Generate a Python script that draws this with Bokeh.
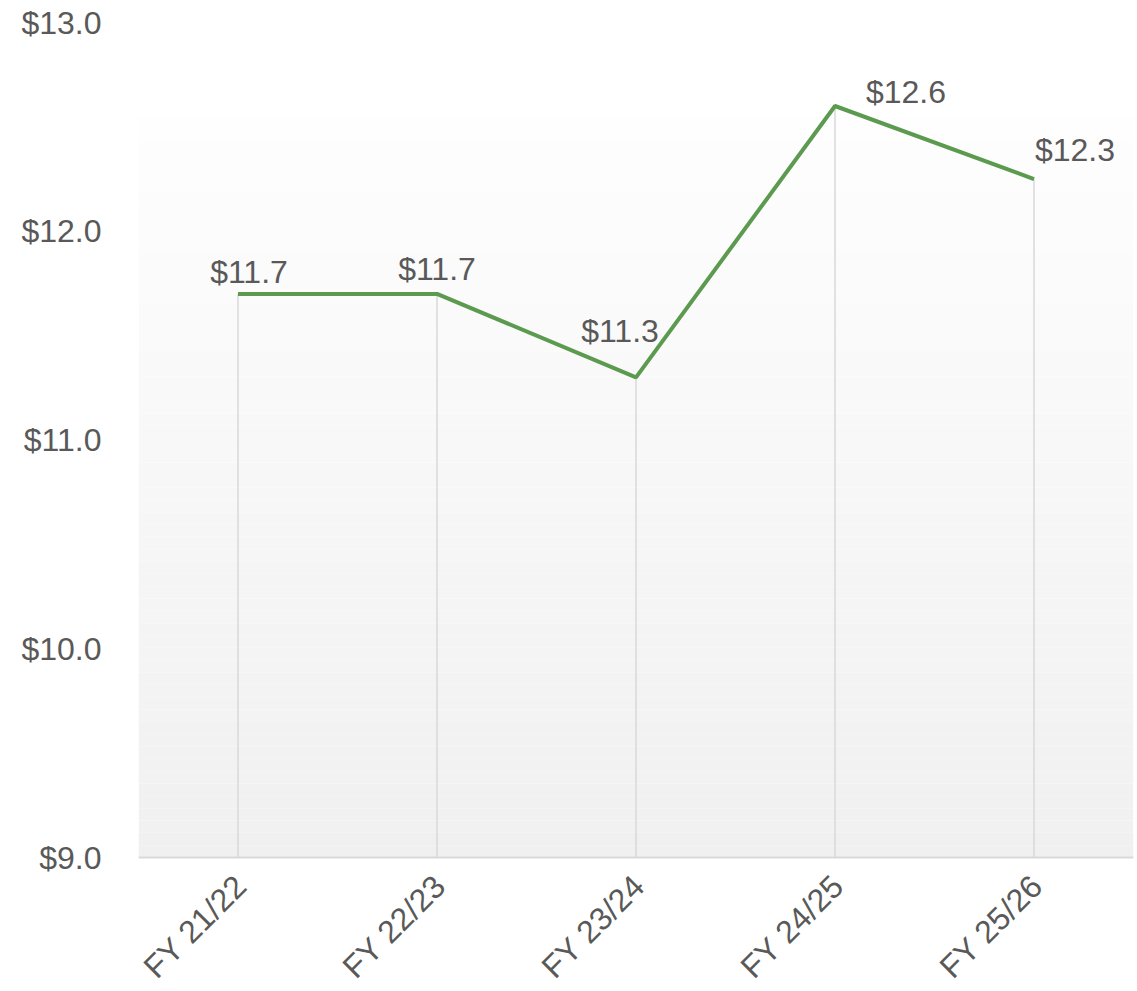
from bokeh.plotting import figure
from bokeh.models import ColumnDataSource, BoxAnnotation, NumeralTickFormatter, FactorRange, Range1d, Span
from bokeh.core.properties import value
from bokeh.embed import file_html
from bokeh.resources import INLINE
import math

# ---- data ----
categories = ["FY 21/22", "FY 22/23", "FY 23/24", "FY 24/25", "FY 25/26"]
values = [11.7, 11.7, 11.3, 12.6, 12.25]
value_labels = ["$11.7", "$11.7", "$11.3", "$12.6", "$12.3"]
y_start, y_end = 9.0, 13.0
y_ticks = [9, 10, 11, 12, 13]

# ---- style ----
FONT = "Liberation Sans"
TEXT_COLOR = "#595959"
LINE_COLOR = "#5B9A4F"
GRID_COLOR = "#D9D9D9"
label_dx = [11, 0, -16, 71, 41]
label_dy = [-22, -25, -46, -14, -29]

W, H = 1137, 991
TOP = 22
frame_h = H - TOP
below_px = 134  # room under the $9.0 baseline for the rotated category labels
y_min = y_start - (y_end - y_start) * below_px / (frame_h - below_px)

p = figure(x_range=FactorRange(factors=categories, range_padding=0),
           y_range=Range1d(y_min, y_end), x_axis_location=None,
           width=W, height=H, output_backend="svg", toolbar_location=None,
           min_border_left=138, min_border_right=4, min_border_top=TOP,
           min_border_bottom=0)
p.outline_line_color = None
p.background_fill_color = "white"
p.border_fill_color = "white"
p.grid.visible = False

# gradient background bands
grad_top = 12.545
n = 60
c_top = (254, 254, 254)
c_bot = (240, 240, 240)
for i in range(n):
    b = y_start + (grad_top - y_start) * i / n
    t = y_start + (grad_top - y_start) * (i + 1) / n
    f = (i + 0.5) / n
    c = tuple(int(round(c_bot[k] + (c_top[k] - c_bot[k]) * f)) for k in range(3))
    p.add_layout(BoxAnnotation(bottom=b, top=t, fill_color="#%02x%02x%02x" % c,
                               fill_alpha=1.0, line_color=None, level="underlay"))

src = ColumnDataSource(dict(x=categories, y=values, base=[y_start] * len(values),
                            lab=value_labels, dx=label_dx, dy=label_dy))

p.segment(x0="x", y0="base", x1="x", y1="y", source=src, line_color=GRID_COLOR, line_width=1.5)
p.line(x="x", y="y", source=src, line_color=LINE_COLOR, line_width=4)
p.text(x="x", y="y", text="lab", source=src, x_offset="dx", y_offset="dy",
       text_align="center", text_baseline="alphabetic",
       text_font=value(FONT), text_font_size="32px", text_color=TEXT_COLOR)

# y axis
p.yaxis.ticker = y_ticks
p.yaxis.formatter = NumeralTickFormatter(format="$0.0")
p.yaxis.axis_line_color = None
p.yaxis.major_tick_line_color = None
p.yaxis.minor_tick_line_color = None
p.yaxis.major_tick_out = 0
p.yaxis.major_tick_in = 0
p.yaxis.major_label_standoff = 37
p.yaxis.major_label_text_font = FONT
p.yaxis.major_label_text_font_size = "32px"
p.yaxis.major_label_text_color = TEXT_COLOR

# x axis: baseline at $9.0 and rotated category labels under it
p.add_layout(Span(location=y_start, dimension="width", line_color=GRID_COLOR, line_width=2))
xsrc = ColumnDataSource(dict(x=categories, y=[y_start] * len(categories), t=categories))
p.text(x="x", y="y", text="t", source=xsrc, x_offset=3, y_offset=23,
       angle=math.pi / 4, text_align="right", text_baseline="alphabetic",
       text_font=value(FONT), text_font_size="32px", text_color=TEXT_COLOR)

open("out.html", "w").write(file_html(p, INLINE))
